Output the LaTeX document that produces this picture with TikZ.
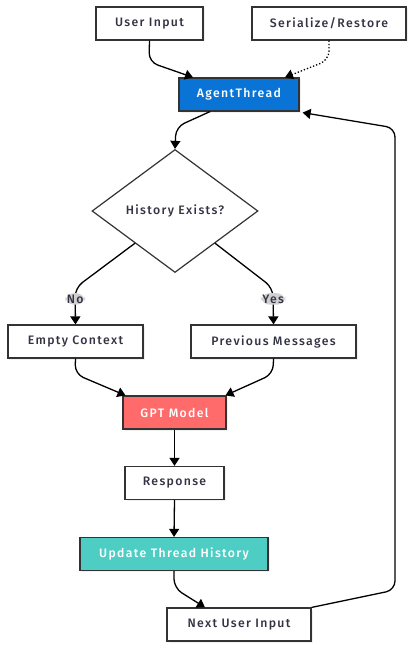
\documentclass[tikz,border=0pt]{standalone}
\usepackage{fontspec}
\setmainfont{Fira Sans Medium}[LetterSpace=11]
\usetikzlibrary{shapes.geometric,arrows.meta,shadows,calc}
\definecolor{txt}{HTML}{333344}
\definecolor{edge}{HTML}{333333}
\definecolor{blueA}{HTML}{0A74D6}
\definecolor{redA}{HTML}{FF6B6B}
\definecolor{tealA}{HTML}{4ECDC4}
\definecolor{lbl}{HTML}{D0D0D0}
\begin{document}
\begin{tikzpicture}[x=1bp,y=-1bp,
  font=\fontsize{12.3}{14}\selectfont,
  box/.style={draw=edge, line width=1.2bp, fill=white, text=txt, inner sep=0pt,
     minimum height=33bp, drop shadow={opacity=0.12, shadow xshift=1.5bp, shadow yshift=-1.5bp}},
  dec/.style={diamond, draw=edge, line width=1.2bp, fill=white, text=txt, inner sep=0pt,
     minimum width=166bp, minimum height=123bp},
  conn/.style={draw=black, line width=1.3bp, -{Triangle[length=8bp,width=10bp]}, rounded corners=9bp},
  dotconn/.style={conn, dotted},
  elbl/.style={fill=lbl, text=txt, inner sep=1.5bp}
]
\useasboundingbox (0,0) rectangle (414,650);

\node[box, minimum width=107bp] (ui) at (149.5,23.5) {User Input};
\node[box, minimum width=154bp] (sr) at (329,23.5) {Serialize/Restore};
\node[box, minimum width=120bp, fill=blueA, text=white] (at) at (239,94.5) {AgentThread};
\node[dec] (hx) at (175,211) {History Exists?};
\node[box, minimum width=135bp] (ec) at (75.5,341.5) {Empty Context};
\node[box, minimum width=165bp] (pm) at (273.5,341.5) {Previous Messages};
\node[box, minimum width=103bp, fill=redA, text=white] (gpt) at (174.5,412.5) {GPT Model};
\node[box, minimum width=99bp] (rs) at (174.5,483) {Response};
\node[box, minimum width=188bp, fill=tealA, text=white] (up) at (174,554) {Update Thread History};
\node[box, minimum width=144bp] (nx) at (239,624.5) {Next User Input};

\coordinate (uiA) at (149,62);
\coordinate (srA) at (329,60);
\coordinate (atA) at (176,127);
\coordinate (noA) at (75,288);
\coordinate (yesA) at (273,288);
\coordinate (ecA) at (75,374);
\coordinate (pmA) at (273,374);
\coordinate (upA) at (174,588);
\coordinate (lp1) at (395,590);
\coordinate (lp2) at (395,128);

\draw[conn] (ui.south) -- (uiA) -- ([xshift=-46bp]at.north);
\draw[dotconn] (sr.south) -- (srA) -- ([xshift=46bp]at.north);
\draw[conn] ([xshift=-29bp]at.south) -- (atA) -- (hx.north);
\draw[conn] ($(hx.west)!0.52!(hx.south)$) -- (noA) -- (ec.north) node[elbl, pos=0.3] {No};
\draw[conn] ($(hx.east)!0.52!(hx.south)$) -- (yesA) -- (pm.north) node[elbl, pos=0.3] {Yes};
\draw[conn] (ec.south) -- (ecA) -- ([xshift=-49bp]gpt.north);
\draw[conn] (pm.south) -- (pmA) -- ([xshift=51bp]gpt.north);
\draw[conn] (gpt.south) -- (rs.north);
\draw[conn] (rs.south) -- (up.north);
\draw[conn] (up.south) -- (upA) -- ([xshift=-34bp]nx.north);
\draw[conn] (nx.north east) -- (lp1) -- (lp2) -- ([xshift=3bp,yshift=-1bp]at.south east);
\end{tikzpicture}
\end{document}
